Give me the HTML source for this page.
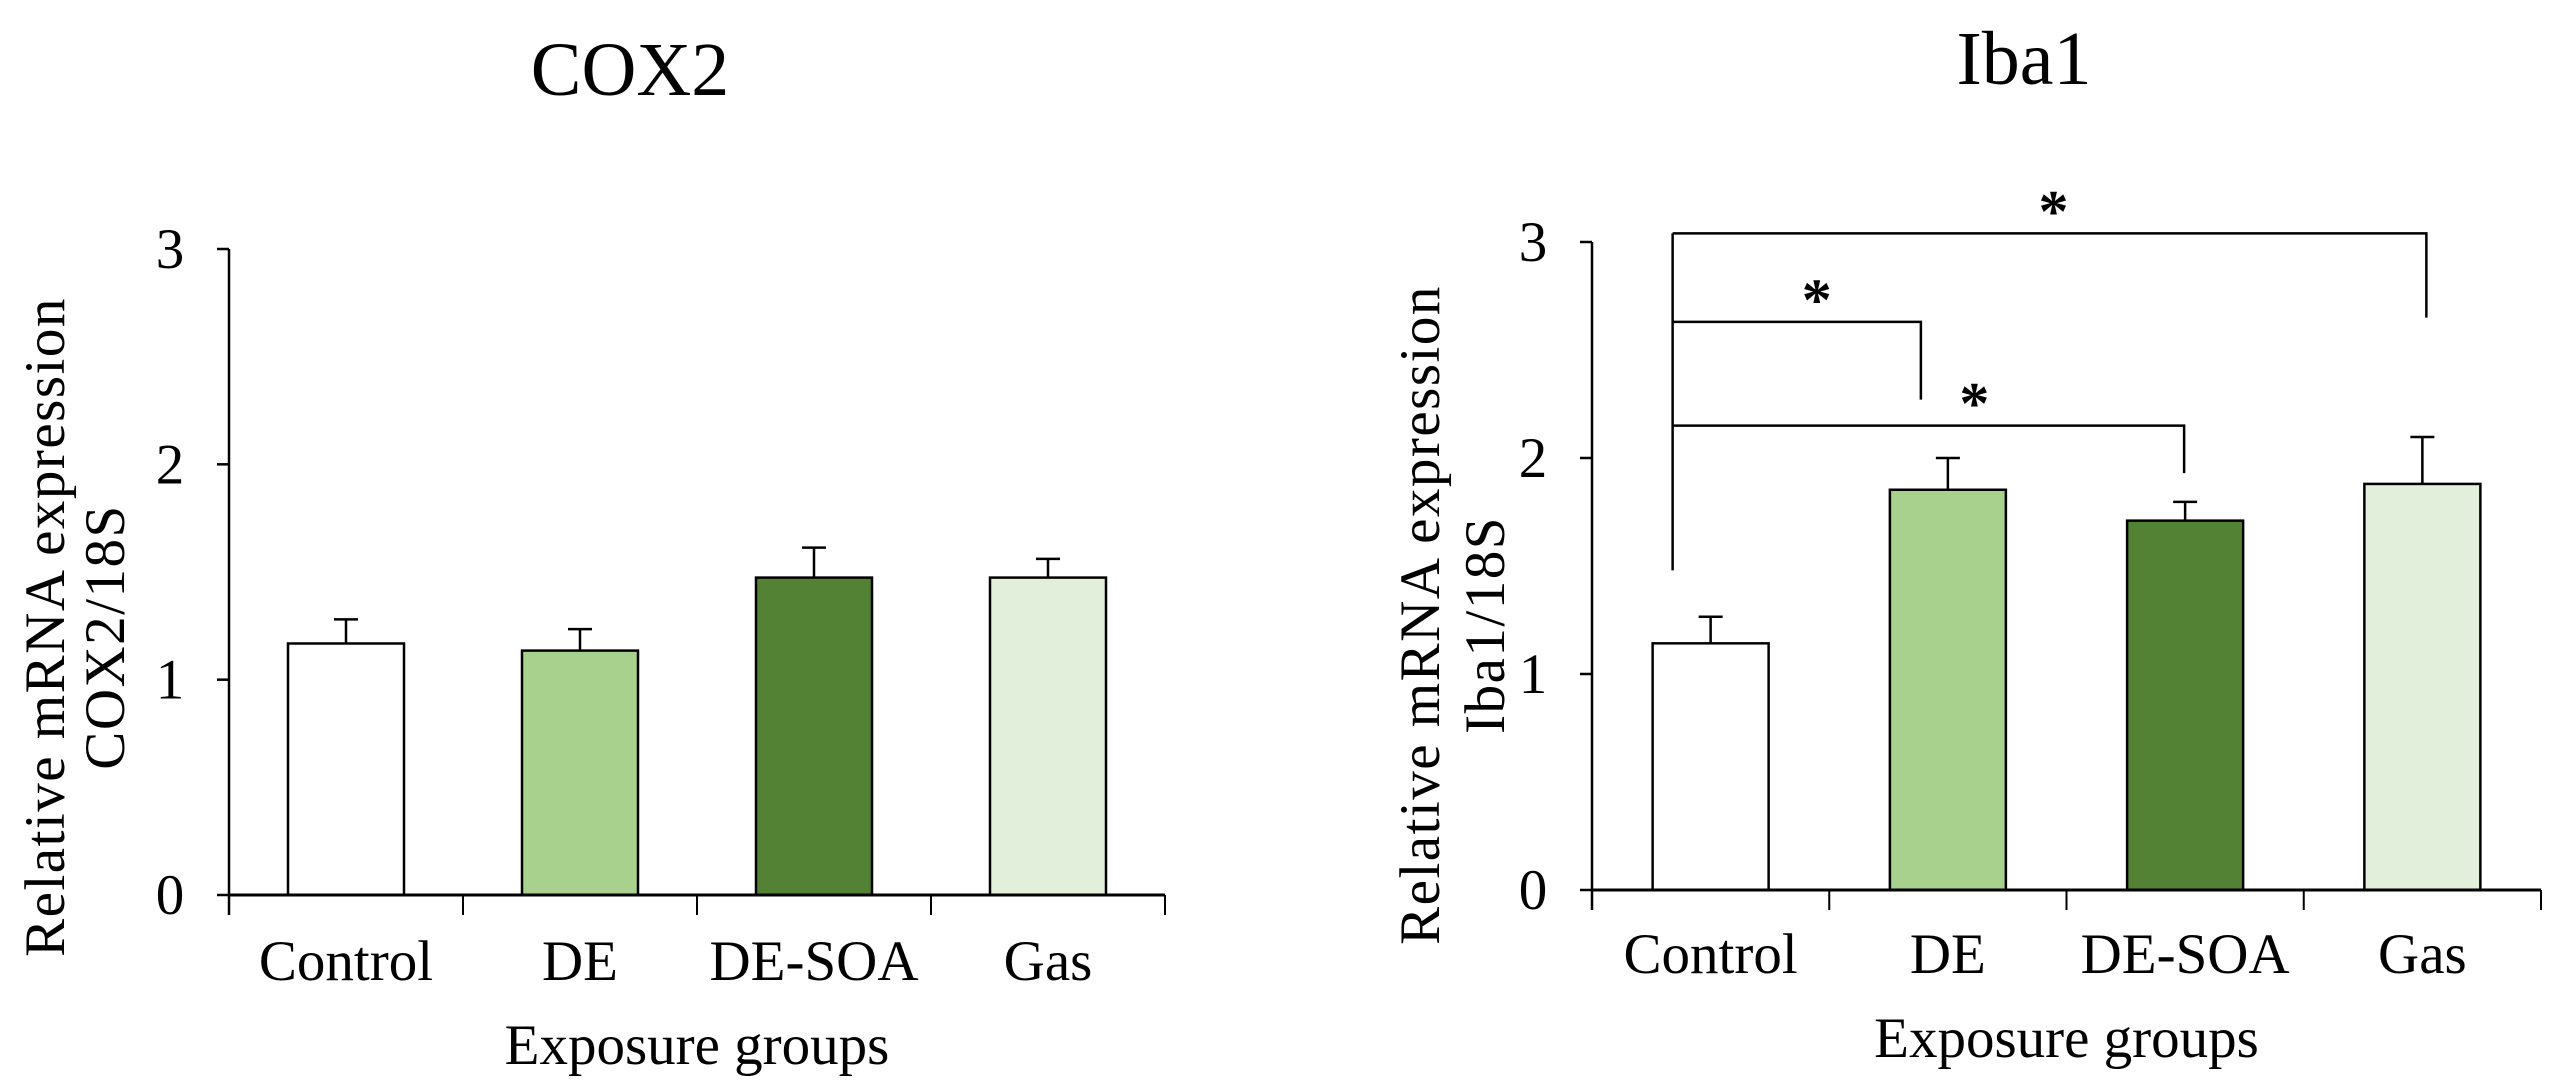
<!DOCTYPE html>
<html><head><meta charset="utf-8"><style>
html,body{margin:0;padding:0;background:#fff;}
svg{display:block;}
text{font-family:"Liberation Serif",serif;fill:#000;}
</style></head><body>
<svg id="fig" width="2566" height="1090" viewBox="0 0 2566 1090" xmlns="http://www.w3.org/2000/svg"></svg>
<script>
const categories = ["Control","DE","DE-SOA","Gas"];
const cox2Values = [1.168, 1.135, 1.474, 1.474];
const cox2Errors = [0.112, 0.100, 0.139, 0.087];
const iba1Values = [1.142, 1.853, 1.71, 1.88];
const iba1Errors = [0.123, 0.147, 0.087, 0.217];
const yTicks = [0, 1, 2, 3];
const barColors = ["#ffffff","#a9d18e","#548235","#e2efda"];
const sigPairs = [[0,1],[0,2],[0,3]];
const sigLevels = [2.63, 2.15, 3.04];
const sigDrops = [2.27, 1.93, 2.65];
const sigLabels = ["*","*","*"];

const NS = "http://www.w3.org/2000/svg";
const svg = document.getElementById("fig");
function mk(tag, attrs, parent){const e=document.createElementNS(NS,tag);for(const k in attrs)e.setAttribute(k,attrs[k]);(parent||svg).appendChild(e);return e;}

const endOffsets = [-27, -1, 4];
const starOffsets = [20, 46, 4];

const panels = [
 {key:"cox2", title:"COX2", titleX:630, titleY:95, x0:229, x1:1165, y0:895, y3:249, vals:cox2Values, errs:cox2Errors, ylab1X:45, ylab2X:105, ylabY:627, catY:980, xtY:1064, tickLabX:170, line2:"COX2/18S"},
 {key:"iba1", title:"Iba1", titleX:2024, titleY:84, x0:1592, x1:2541, y0:890, y3:242, vals:iba1Values, errs:iba1Errors, ylab1X:1420, ylab2X:1485, ylabY:615, catY:973, xtY:1057, tickLabX:1533, line2:"Iba1/18S", sig:true}
];

panels.forEach(p=>{
  const g = mk("g",{});
  
  
  const ys = v => p.y0 - (p.y0-p.y3)*v/3;
  const bw = (p.x1-p.x0)/categories.length;
  const xc = i => p.x0 + bw*(i+0.5);
  const t = mk("text",{x:p.titleX,y:p.titleY,"font-size":76,"text-anchor":"middle"},g);
  t.textContent = p.title;
  
  
  p.vals.forEach((v,i)=>{
    const e = p.errs[i];
    const el = mk("line",{x1:xc(i),x2:xc(i),y1:ys(v),y2:ys(v+e),stroke:"#000","stroke-width":2.5},g);
    
    
    const cap = mk("line",{x1:xc(i)-12,x2:xc(i)+12,y1:ys(v+e),y2:ys(v+e),stroke:"#000","stroke-width":2.5},g);
    
    
    const r = mk("rect",{x:xc(i)-58,y:ys(v),width:116,height:p.y0-ys(v),fill:barColors[i],stroke:"#000","stroke-width":2.5},g);
    
    
    const cl = mk("text",{x:xc(i),y:p.catY,"font-size":57,"text-anchor":"middle"},g);
    cl.textContent = categories[i];
    
    
  });
  const ya = mk("line",{x1:p.x0,x2:p.x0,y1:p.y3,y2:p.y0+20,stroke:"#000","stroke-width":2.5},g);
  
  
  const xa = mk("line",{x1:p.x0,x2:p.x1,y1:p.y0,y2:p.y0,stroke:"#000","stroke-width":3},g);
  
  
  for(let i=0;i<=categories.length;i++){
    const tk = mk("line",{x1:p.x0+bw*i,x2:p.x0+bw*i,y1:p.y0,y2:p.y0+20,stroke:"#000","stroke-width":2},g);
    
    
  }
  yTicks.forEach(v=>{
    const tk = mk("line",{x1:p.x0-12,x2:p.x0,y1:ys(v),y2:ys(v),stroke:"#000","stroke-width":2.5},g);
    
    
    const tl = mk("text",{x:p.tickLabX,y:ys(v)+19,"font-size":57,"text-anchor":"middle"},g);
    tl.textContent = v;
    
    
  });
  const xt = mk("text",{x:(p.x0+p.x1)/2,y:p.xtY,"font-size":57,"text-anchor":"middle"},g);
  xt.textContent = "Exposure groups";
  
  
  const yl = mk("text",{x:0,y:0,"font-size":57,"letter-spacing":"1.5","text-anchor":"middle",transform:`translate(${p.ylab1X+19},${p.ylabY}) rotate(-90)`},g);
  yl.textContent = "Relative  mRNA expression";
  
  
  const yl2 = mk("text",{x:0,y:0,"font-size":57,"letter-spacing":"1.5","text-anchor":"middle",transform:`translate(${p.ylab2X+19},${p.ylabY+10}) rotate(-90)`},g);
  yl2.textContent = p.line2;
  
  
  if(p.sig){
    const xl = xc(0)-38;
    const vm = mk("line",{x1:xl,x2:xl,y1:ys(Math.max(...sigLevels)),y2:ys(1.48),stroke:"#000","stroke-width":2.5},g);
    
    
    sigPairs.forEach((pr,k)=>{
      const xr = xc(pr[1])+endOffsets[k];
      const yy = ys(sigLevels[k]);
      const pl = mk("polyline",{points:`${xl},${yy} ${xr},${yy} ${xr},${ys(sigDrops[k])}`,fill:"none",stroke:"#000","stroke-width":2.5},g);
      
      
      const st = mk("text",{x:(xl+xr)/2+starOffsets[k],y:yy-2,"font-size":60,"font-weight":"bold","text-anchor":"middle"},g);
      st.textContent = sigLabels[k];
      
      
    });
  }
});
</script>
</body></html>
